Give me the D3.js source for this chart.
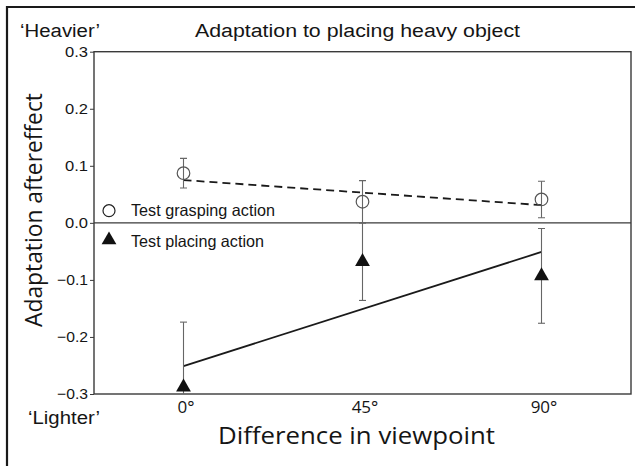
<!DOCTYPE html>
<html><head><meta charset="utf-8">
<script src="https://cdn.jsdelivr.net/npm/d3@7"></script>
<style>body{margin:0;background:#fff}</style>
</head><body>
<svg id="c" width="635" height="466"></svg>
<script>
const categories = [0, 45, 90];
const xTickLabels = ["0°", "45°", "90°"];
const yTicks = [-0.3, -0.2, -0.1, 0.0, 0.1, 0.2, 0.3];
const yTickLabels = ["\u22120.3", "\u22120.2", "\u22120.1", "0.0", "0.1", "0.2", "0.3"];
const graspMean = [0.087, 0.037, 0.041];
const graspErr = [0.026, 0.037, 0.032];
const placeMean = [-0.288, -0.068, -0.093];
const placeErr = [0.114, 0.068, 0.083];
const fitX = [0, 90];
const graspFit = [0.075, 0.031];
const placeFit = [-0.251, -0.051];

const svg = d3.select("#c");
const L = 94, R = 631, T = 51.7, B = 394;
const x = d3.scaleLinear().domain([-22.5, 112.5]).range([L, R]);
const y = d3.scaleLinear().domain([-0.3, 0.3]).range([B, T]);
const ARIAL = "Liberation Sans, Arial, sans-serif";
const MYRIAD = "Open Sans, sans-serif";
const INK = "#151515";

function txt(px, py, str, font, size, width, anchor) {
  const t = svg.append("text").attr("x", px).attr("y", py).text(str)
    .attr("font-family", font).attr("font-size", size).attr("fill", INK)
    .attr("text-anchor", anchor || "start");
  if (width) t.attr("textLength", width).attr("lengthAdjust", "spacingAndGlyphs");
  return t;
}

// outer frame (top + left)
svg.append("path").attr("d", "M7,466V7H635").attr("fill", "none").attr("stroke", "#1a1a1a").attr("stroke-width", 2.2);

svg.append("defs").append("clipPath").attr("id", "pc").append("rect")
  .attr("x", L).attr("y", T).attr("width", R - L).attr("height", B - T);

// plot frame
svg.append("rect").attr("x", L).attr("y", T).attr("width", R - L).attr("height", B - T)
  .attr("fill", "none").attr("stroke", "#3a3a3a").attr("stroke-width", 1.4);

// y axis
const yAxis = d3.axisLeft(y).tickValues(yTicks).tickSize(4).tickPadding(2)
  .tickFormat((d, i) => yTickLabels[i]);
const ya = svg.append("g").attr("transform", `translate(${L},0)`).call(yAxis);
ya.select(".domain").remove();
ya.selectAll(".tick line").attr("stroke", "#3a3a3a");
ya.selectAll(".tick text").attr("font-family", ARIAL)
  .attr("font-size", 15).attr("fill", INK)
  .attr("textLength", (d, i) => yTickLabels[i].length > 3 ? 31 : 23)
  .attr("lengthAdjust", "spacingAndGlyphs");

// zero line
svg.append("line").attr("x1", L).attr("x2", R).attr("y1", y(0)).attr("y2", y(0))
  .attr("stroke", "#3a3a3a").attr("stroke-width", 1.4);

// x axis labels
const xAxis = d3.axisBottom(x).tickValues(categories).tickSize(0).tickPadding(7)
  .tickFormat((d, i) => xTickLabels[i]);
const xa = svg.append("g").attr("transform", `translate(0,${B})`).call(xAxis);
xa.select(".domain").remove();
xa.selectAll(".tick text").attr("font-family", MYRIAD)
  .attr("font-size", 17).attr("fill", INK).attr("dx", 2);

const g = svg.append("g").attr("clip-path", "url(#pc)");

// fit lines
const line = d3.line().x(d => x(d[0])).y(d => y(d[1]));
g.append("path").datum(fitX.map((v, i) => [v, graspFit[i]])).attr("d", line)
  .attr("fill", "none").attr("stroke", "#1a1a1a").attr("stroke-width", 1.8).attr("stroke-dasharray", "8,5");
g.append("path").datum(fitX.map((v, i) => [v, placeFit[i]])).attr("d", line)
  .attr("fill", "none").attr("stroke", "#1a1a1a").attr("stroke-width", 1.8);

// error bars
function errBars(means, errs, col) {
  categories.forEach((c, i) => {
    const cx = x(c), y1 = y(means[i] + errs[i]), y2 = y(means[i] - errs[i]);
    g.append("line").attr("x1", cx).attr("x2", cx).attr("y1", y1).attr("y2", y2)
      .attr("stroke", col).attr("stroke-width", 1.1);
    [y1, y2].forEach(yy => g.append("line").attr("x1", cx - 3.5).attr("x2", cx + 3.5)
      .attr("y1", yy).attr("y2", yy).attr("stroke", col).attr("stroke-width", 1.1));
  });
}
errBars(graspMean, graspErr, "#666");
errBars(placeMean, placeErr, "#666");

// markers
const tri = d3.symbol().type(d3.symbolTriangle).size(95);
categories.forEach((c, i) => {
  svg.append("circle").attr("cx", x(c)).attr("cy", y(graspMean[i])).attr("r", 6.3)
    .attr("fill", "none").attr("stroke", "#555").attr("stroke-width", 1.2);
  svg.append("path").attr("d", tri).attr("transform", `translate(${x(c)},${y(placeMean[i])})`)
    .attr("fill", "#111");
});

// legend
svg.append("circle").attr("cx", 109).attr("cy", 210.7).attr("r", 6).attr("fill", "none")
  .attr("stroke", "#222").attr("stroke-width", 1.2);
txt(131, 216, "Test grasping action", ARIAL, 16.5, 144);
svg.append("path").attr("d", tri).attr("transform", "translate(109,240)").attr("fill", "#111");
txt(131, 247, "Test placing action", ARIAL, 16.5, 133);

// titles
txt(357.5, 37, "Adaptation to placing heavy object", ARIAL, 18, 325, "middle");
txt(20, 37, "\u2018Heavier\u2019", ARIAL, 18, 80);
txt(28, 424, "\u2018Lighter\u2019", ARIAL, 18, 72);

svg.append("text").attr("transform", "translate(42,210) rotate(-90)").attr("text-anchor", "middle")
  .text("Adaptation aftereffect")
  .attr("font-family", MYRIAD).attr("font-size", 24).attr("fill", INK)
  .attr("textLength", 234).attr("lengthAdjust", "spacingAndGlyphs");
txt(356.5, 444, "Difference in viewpoint", MYRIAD, 24, 277, "middle");
</script>
</body></html>
